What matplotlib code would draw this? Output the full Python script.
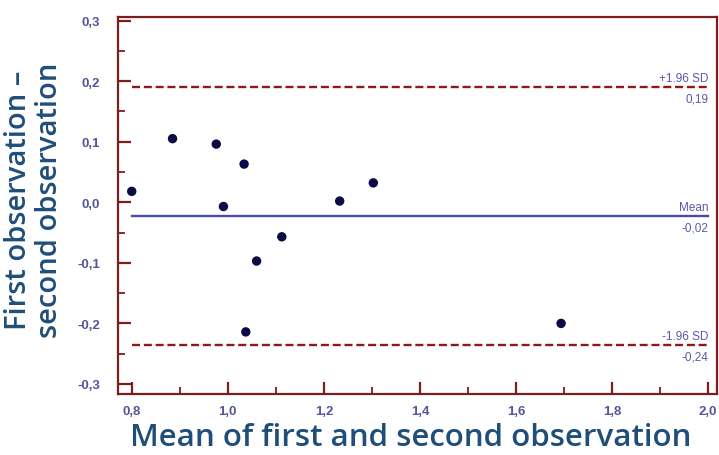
import matplotlib.pyplot as plt
from matplotlib.ticker import FuncFormatter

# Bland-Altman Daten
mean_obs = [0.80, 0.885, 0.976, 0.991, 1.034, 1.0375, 1.060, 1.1125, 1.233, 1.303, 1.694]
diff_obs = [0.018, 0.105, 0.096, -0.007, 0.063, -0.214, -0.097, -0.057, 0.002, 0.032, -0.200]

bias = -0.023
upper_loa = 0.190
lower_loa = -0.236

line_labels = ["+1.96 SD", "Mean", "-1.96 SD"]
value_labels = ["0,19", "-0,02", "-0,24"]

x_major = [0.8, 1.0, 1.2, 1.4, 1.6, 1.8, 2.0]
x_minor = [0.9, 1.1, 1.3, 1.5, 1.7, 1.9]
y_major = [-0.3, -0.2, -0.1, 0.0, 0.1, 0.2, 0.3]
y_minor = [-0.25, -0.15, -0.05, 0.05, 0.15, 0.25]

spine_col = "#7f1d1d"
tick_col = "#55559a"
title_col = "#1f4e79"

plt.rcParams['font.family'] = ['Liberation Sans', 'DejaVu Sans']

fig = plt.figure(figsize=(7.19, 4.56), dpi=100)
ax = fig.add_axes([0.1645, 0.1338, 0.8323, 0.8267])

ax.scatter(mean_obs, diff_obs, s=46, color="#0b0b45", zorder=3, edgecolors="none")

ax.plot([0.8, 2.0], [bias, bias], color="#4b4ba3", lw=1.7)
ax.plot([0.8, 2.0], [upper_loa, upper_loa], color="#8b1a1a", lw=1.7, ls=(0, (3.4, 1.6)))
ax.plot([0.8, 2.0], [lower_loa, lower_loa], color="#8b1a1a", lw=1.7, ls=(0, (3.4, 1.6)))

for yv, top, bottom in zip([upper_loa, bias, lower_loa], line_labels, value_labels):
    ax.text(2.0, yv + 0.006, top, ha="right", va="bottom", fontsize=8.5, color="#5a5aa5")
    ax.text(2.0, yv - 0.008, bottom, ha="right", va="top", fontsize=8.5, color="#5a5aa5")

ax.set_xlim(0.772, 2.018)
ax.set_ylim(-0.3165, 0.3058)

ax.set_xticks(x_major)
ax.set_xticks(x_minor, minor=True)
ax.set_yticks(y_major)
ax.set_yticks(y_minor, minor=True)

fmt = FuncFormatter(lambda v, p: f"{v:.1f}".replace(".", ",").replace("-0,0", "0,0"))
ax.xaxis.set_major_formatter(fmt)
ax.yaxis.set_major_formatter(fmt)

ax.tick_params(which="major", direction="in", length=9, width=1.6, color=spine_col,
               labelcolor=tick_col, labelsize=9.5)
ax.tick_params(axis="y", which="major", pad=13)
ax.tick_params(axis="x", which="major", pad=8)
ax.tick_params(which="minor", direction="in", length=5, width=1.3, color=spine_col)
ax.tick_params(axis="x", which="both", top=False)
ax.tick_params(axis="y", which="both", right=False)
for lab in ax.get_xticklabels() + ax.get_yticklabels():
    lab.set_fontweight("bold")

for side in ["left", "bottom", "top", "right"]:
    ax.spines[side].set_color(spine_col)
    ax.spines[side].set_linewidth(1.6)

label_font = ["Open Sans", "DejaVu Sans"]
fig.text(411 / 719, 1 - 438 / 456, "Mean of first and second observation", fontsize=22.5,
         color=title_col, family=label_font, fontweight="semibold", ha="center", va="center")
fig.text(34 / 719, 1 - 200 / 456, "First observation \u2013\nsecond observation", fontsize=21,
         color=title_col, family=label_font, fontweight="semibold", ha="center", va="center",
         rotation=90, linespacing=1.05, multialignment="center")

fig.savefig("out.png", dpi=100)
